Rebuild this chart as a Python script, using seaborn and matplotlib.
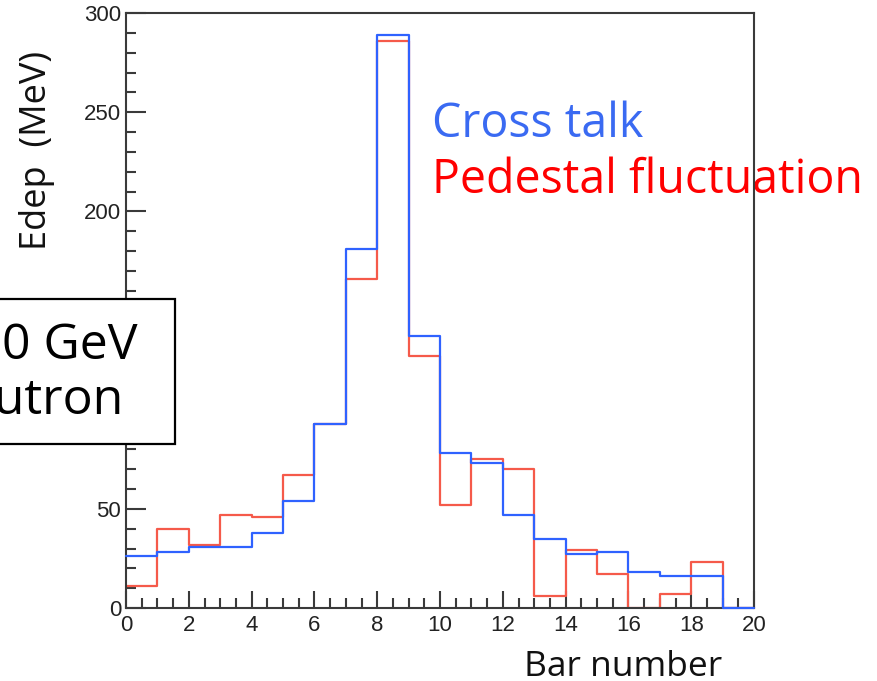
import matplotlib
matplotlib.use("Agg")
import matplotlib.pyplot as plt
from matplotlib.patches import Rectangle
from matplotlib.ticker import MultipleLocator
import pandas as pd
import seaborn as sns

# Energy deposit per scintillator bar (MeV), 20 bars
bar_edges = list(range(21))
bar_centers = [b + 0.5 for b in range(20)]
cross_talk = [26, 28, 31, 31, 38, 54, 93, 181, 289, 137,
              78, 73, 47, 35, 27, 28, 18, 16, 16, 0]
pedestal = [11, 40, 32, 47, 46, 67, 93, 166, 286, 127,
            52, 75, 70, 6, 29, 17, 0, 7, 23, 0]
series_names = ["Cross talk", "Pedestal fluctuation"]
y_ticks = [0, 50, 100, 150, 200, 250, 300]
x_ticks = list(range(0, 21, 2))

BLUE_LINE = "#2f62ff"
RED_LINE = "#f55a4a"
BLUE_TEXT = "#3a6af2"
RED_TEXT = "#ff0000"
AXIS_COLOR = "#3a3a3a"

sns.set_theme(style="white")
plt.rcParams["font.family"] = ["Open Sans", "DejaVu Sans"]

W, H = 877, 681
fig = plt.figure(figsize=(W / 100, H / 100), dpi=100)


def fx(px):
    return px / W


def fy(py):
    return 1 - py / H


ax = fig.add_axes([fx(126), fy(608), fx(754) - fx(126), fy(13) - fy(608)])

df = pd.DataFrame({
    "bar": bar_centers * 2,
    "edep": cross_talk + pedestal,
    "source": [series_names[0]] * 20 + [series_names[1]] * 20,
})

# Pedestal fluctuation first, cross talk drawn on top
for name, color, z, clip in [(series_names[1], RED_LINE, 2.2, True),
                             (series_names[0], BLUE_LINE, 2.6, False)]:
    n_before = len(ax.lines)
    sns.histplot(data=df[df["source"] == name], x="bar", weights="edep",
                 bins=bar_edges, element="step", fill=False,
                 color=color, linewidth=1.6, ax=ax)
    for ln in ax.lines[n_before:]:
        ln.set_zorder(z)
        ln.set_clip_on(clip)
        ln.set_color(color)

ax.set_xlim(0, 20)
ax.set_ylim(0, 300)
ax.set_xlabel("")
ax.set_ylabel("")

for sp in ax.spines.values():
    sp.set_color(AXIS_COLOR)
    sp.set_linewidth(1.5)
    sp.set_zorder(2.5)

ax.xaxis.set_major_locator(MultipleLocator(2))
ax.xaxis.set_minor_locator(MultipleLocator(0.5))
ax.yaxis.set_major_locator(MultipleLocator(50))
ax.yaxis.set_minor_locator(MultipleLocator(10))
ax.set_xticks(x_ticks)
ax.set_yticks(y_ticks)

ax.tick_params(axis="both", which="both", direction="in", color=AXIS_COLOR,
               labelcolor="#222222", bottom=True, left=True,
               top=False, right=False)
ax.tick_params(axis="x", which="major", length=12.5, width=1.5, pad=5)
ax.tick_params(axis="x", which="minor", length=7.5, width=1.5)
ax.tick_params(axis="y", which="major", length=14.5, width=1.5, pad=3.5)
ax.tick_params(axis="y", which="minor", length=7.5, width=1.5)
for lab in ax.get_xticklabels() + ax.get_yticklabels():
    lab.set_fontfamily(["Liberation Sans", "DejaVu Sans"])
    lab.set_fontsize(16)

# Axis titles
fig.text(fx(623), fy(676), "Bar number", ha="center", va="baseline",
         fontsize=25.5, color="#111111")
fig.text(fx(37), fy(150), "Edep  (MeV)", ha="center", va="center",
         rotation=90, fontsize=26, color="#111111")

# Series labels, drawn beneath the frame
to_fig = fig.transFigure
ax.text(fx(432), fy(137), series_names[0], transform=to_fig, ha="left",
        va="baseline", fontsize=33.5, color=BLUE_TEXT, zorder=2, clip_on=False)
ax.text(fx(432), fy(193), series_names[1], transform=to_fig, ha="left",
        va="baseline", fontsize=33.5, color=RED_TEXT, zorder=2, clip_on=False)

# Beam annotation box at the left edge
box = Rectangle((fx(-80), fy(444)), fx(175) - fx(-80), fy(299) - fy(444),
                transform=fig.transFigure, facecolor="white",
                edgecolor="black", linewidth=1.6, zorder=5)
fig.add_artist(box)
fig.text(fx(-55), fy(359), "100 GeV", ha="left", va="baseline",
         fontsize=36, color="black", zorder=6)
fig.text(fx(-64), fy(414), "neutron", ha="left", va="baseline",
         fontsize=36, color="black", zorder=6)

fig.savefig("out.png", dpi=100, facecolor="white")
